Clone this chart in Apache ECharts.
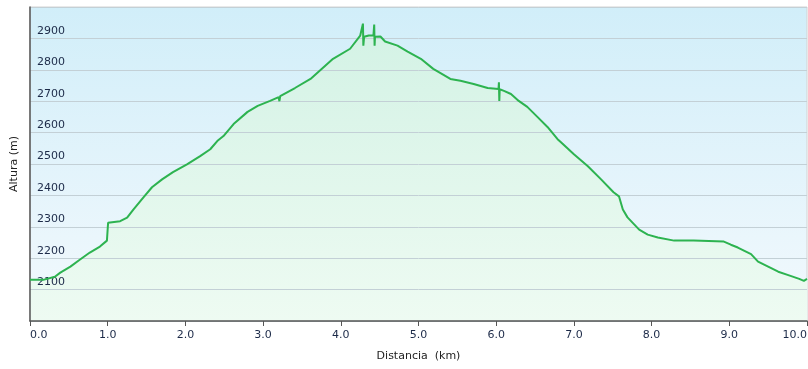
<!DOCTYPE html>
<html>
<head>
<meta charset="utf-8">
<script src="https://cdn.jsdelivr.net/npm/echarts@6/dist/echarts.min.js"></script>
<style>
html,body{margin:0;padding:0;background:#fff;}
#c{width:808px;height:369px;}
</style>
</head>
<body>
<div id="c"></div>
<script>
// Distance (km)
var distanceKm = [0.00,0.17,0.32,0.39,0.52,0.64,0.77,0.90,0.99,1.005,1.16,1.25,1.33,1.46,1.57,1.70,1.84,2.02,2.19,2.32,2.41,2.49,2.62,2.80,2.93,3.09,3.20,3.21,3.22,3.41,3.61,3.90,4.12,4.25,4.285,4.29,4.30,4.36,4.42,4.43,4.435,4.44,4.51,4.57,4.73,4.86,5.03,5.19,5.41,5.54,5.71,5.89,6.03,6.035,6.04,6.045,6.10,6.19,6.29,6.40,6.53,6.66,6.79,6.83,7.00,7.18,7.35,7.51,7.58,7.63,7.69,7.84,7.95,8.08,8.29,8.54,8.93,9.02,9.11,9.28,9.37,9.50,9.63,9.75,9.90,9.96,10.00];
// Altitude (m)
var altitudeM = [2131,2131,2141,2154,2173,2195,2218,2237,2256,2313,2318,2329,2355,2394,2426,2451,2474,2499,2525,2547,2573,2589,2627,2666,2685,2701,2713,2700,2716,2742,2771,2835,2867,2909,2947,2877,2905,2909,2909,2944,2877,2905,2906,2890,2877,2858,2835,2803,2771,2765,2755,2742,2739,2760,2701,2738,2733,2723,2701,2682,2650,2618,2579,2570,2531,2493,2451,2410,2397,2355,2330,2291,2275,2266,2256,2256,2253,2243,2234,2213,2189,2173,2157,2147,2134,2128,2134];
// Axis settings
var xTicks = [0,1,2,3,4,5,6,7,8,9,10];
var yTicks = [2100,2200,2300,2400,2500,2600,2700,2800,2900];

var data = distanceKm.map(function(d,i){return [d, altitudeM[i]];});
var chart = echarts.init(document.getElementById('c'), null, {renderer:'canvas'});
var font = 'DejaVu Sans, Verdana, sans-serif';
chart.setOption({
  animation:false,
  grid:{left:30,right:1,top:7,bottom:48,show:true,borderColor:'#d2d2d2',borderWidth:1,
    containLabel:false,outerBoundsMode:'none',
    backgroundColor:{type:'linear',x:0,y:0,x2:0,y2:1,colorStops:[{offset:0,color:'#d1eef9'},{offset:1,color:'#f3f9fd'}]}},
  xAxis:{type:'value',min:0,max:10,interval:1,z:3,
    name:'Distancia  (km)',nameLocation:'middle',nameGap:30,
    nameTextStyle:{color:'#222',fontFamily:font,fontSize:11},
    axisLine:{show:true,onZero:false,lineStyle:{color:'#555',width:1.5}},
    axisTick:{show:true,length:5,lineStyle:{color:'#555'}},
    splitLine:{show:false},
    axisLabel:{color:'#1c2a48',fontFamily:font,fontSize:11,margin:9,
      alignMinLabel:'left',alignMaxLabel:'right',
      formatter:function(v){return xTicks.indexOf(v)>=0 ? v.toFixed(1) : '';}}
  },
  yAxis:{type:'value',min:2000,max:3000,interval:100,z:3,
    name:'Altura (m)',nameLocation:'middle',nameGap:10,nameRotate:90,
    nameTextStyle:{color:'#222',fontFamily:font,fontSize:11},
    axisLine:{show:true,lineStyle:{color:'#555',width:1.5}},
    axisTick:{show:false},
    splitLine:{show:true,lineStyle:{color:'#c3d0d6',width:1}},
    axisLabel:{inside:true,margin:7,color:'#1c2a48',fontFamily:font,fontSize:11,
      align:'left',verticalAlign:'bottom',padding:[0,0,2,0],
      formatter:function(v){return yTicks.indexOf(v)>=0 ? String(v) : '';}}
  },
  series:[
    {type:'line',data:data,showSymbol:false,symbol:'none',z:1,
      lineStyle:{width:0,opacity:0},
      areaStyle:{opacity:1,color:{type:'linear',x:0,y:0,x2:0,y2:1,colorStops:[{offset:0,color:'#d3f2e5'},{offset:1,color:'#eefbf2'}]}}
    },
    {type:'line',data:data,showSymbol:false,symbol:'none',z:5,
      lineStyle:{color:'#2db350',width:2}
    }
  ]
});
</script>
</body>
</html>
